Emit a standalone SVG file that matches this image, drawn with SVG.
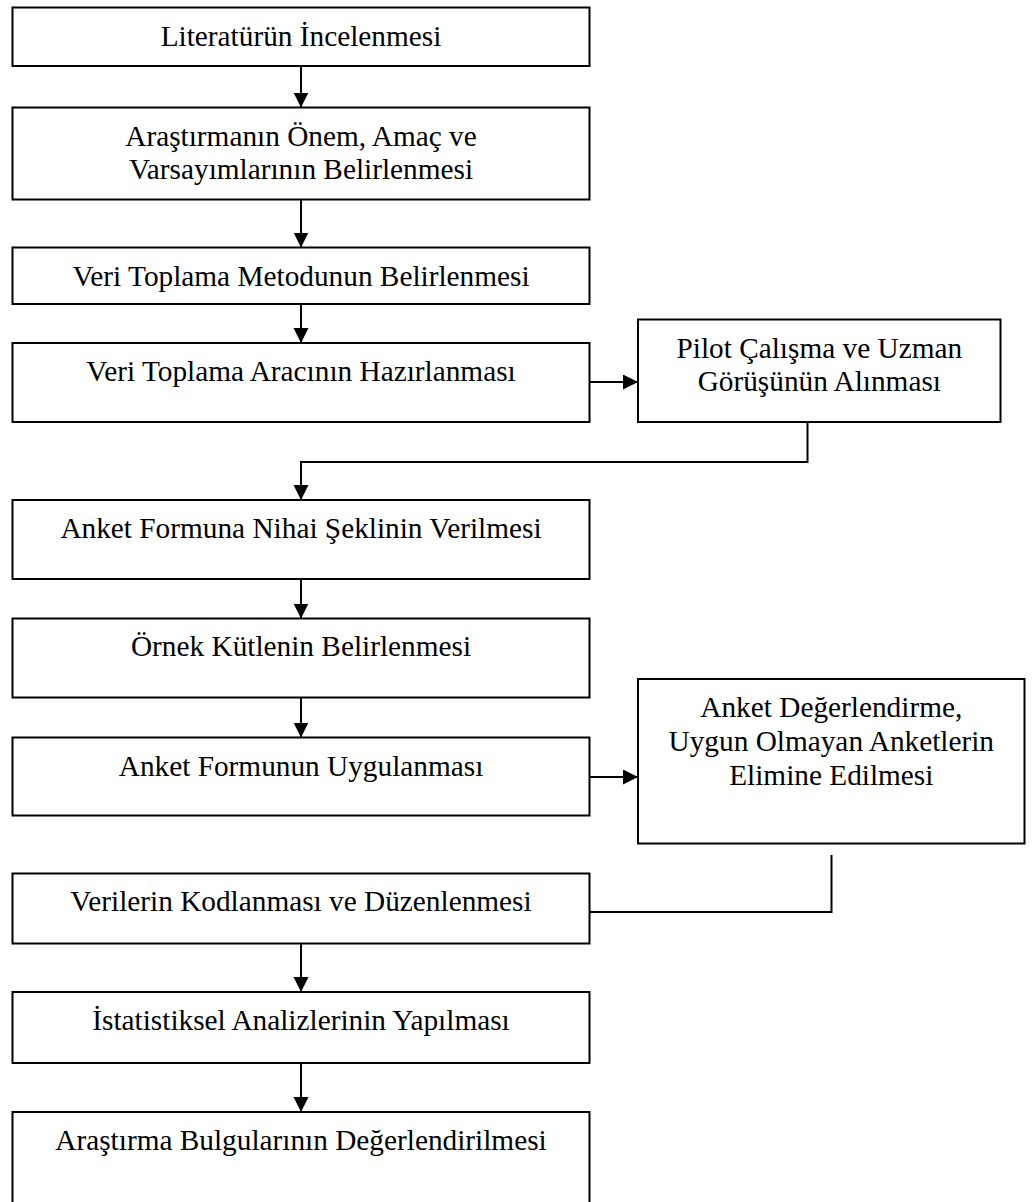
<svg xmlns="http://www.w3.org/2000/svg" width="1035" height="1202" viewBox="0 0 1035 1202">
<defs>
<style>
.box{fill:#fff;stroke:#000;stroke-width:2}
.t{font-family:"Liberation Serif","Times New Roman",serif;font-size:29.3px;fill:#000;text-anchor:middle}
.c{fill:none;stroke:#000;stroke-width:2}
.a{fill:none;stroke:#000;stroke-width:2;marker-end:url(#ah)}
</style>
<marker id="ah" markerUnits="userSpaceOnUse" markerWidth="16" markerHeight="16" refX="15" refY="7.5" orient="auto">
<path d="M0,0 L15,7.5 L0,15 Z" fill="#000"/>
</marker>
</defs>
<rect width="1035" height="1202" fill="#fff"/>
<g id="connectors">
<line class="a" x1="301" y1="66" x2="301" y2="107.5"/>
<line class="a" x1="301" y1="199.5" x2="301" y2="247.5"/>
<line class="a" x1="301" y1="304" x2="301" y2="343"/>
<line class="a" x1="589.5" y1="382" x2="638" y2="382"/>
<polyline class="a" points="807.5,422 807.5,462 301,462 301,500"/>
<line class="a" x1="301" y1="579" x2="301" y2="618.5"/>
<line class="a" x1="301" y1="697.5" x2="301" y2="737.5"/>
<line class="a" x1="589.5" y1="777" x2="638" y2="777"/>
<polyline class="c" points="831.5,855 831.5,912 589.5,912"/>
<line class="a" x1="301" y1="943.5" x2="301" y2="992"/>
<line class="a" x1="301" y1="1063" x2="301" y2="1112"/>
</g>
<g id="n1"><rect class="box" x="12.5" y="7.5" width="577" height="58.5"/><text class="t" x="301" y="45.5">Literatürün İncelenmesi</text></g>
<g id="n2"><rect class="box" x="12.5" y="107.5" width="577" height="92"/><text class="t" x="301" y="145.5">Araştırmanın Önem, Amaç ve</text><text class="t" x="301" y="179">Varsayımlarının Belirlenmesi</text></g>
<g id="n3"><rect class="box" x="12.5" y="247.5" width="577" height="56.5"/><text class="t" x="301" y="285.5">Veri Toplama Metodunun Belirlenmesi</text></g>
<g id="n4"><rect class="box" x="12.5" y="343" width="577" height="79"/><text class="t" x="301" y="381">Veri Toplama Aracının Hazırlanması</text></g>
<g id="n4b"><rect class="box" x="638" y="319.5" width="362.5" height="102.5"/><text class="t" x="819.3" y="357.5">Pilot Çalışma ve Uzman</text><text class="t" x="819.3" y="391">Görüşünün Alınması</text></g>
<g id="n5"><rect class="box" x="12.5" y="500" width="577" height="79"/><text class="t" x="301" y="538">Anket Formuna Nihai Şeklinin Verilmesi</text></g>
<g id="n6"><rect class="box" x="12.5" y="618.5" width="577" height="79"/><text class="t" x="301" y="656">Örnek Kütlenin Belirlenmesi</text></g>
<g id="n7"><rect class="box" x="12.5" y="737.5" width="577" height="78"/><text class="t" x="301" y="775.5">Anket Formunun Uygulanması</text></g>
<g id="n7b"><rect class="box" x="638" y="679" width="386.5" height="164.5"/><text class="t" x="831.3" y="716.5">Anket Değerlendirme,</text><text class="t" x="831.3" y="750.5">Uygun Olmayan Anketlerin</text><text class="t" x="831.3" y="784.5">Elimine Edilmesi</text></g>
<g id="n8"><rect class="box" x="12.5" y="873.5" width="577" height="70"/><text class="t" x="301" y="911">Verilerin Kodlanması ve Düzenlenmesi</text></g>
<g id="n9"><rect class="box" x="12.5" y="992" width="577" height="71"/><text class="t" x="301" y="1030">İstatistiksel Analizlerinin Yapılması</text></g>
<g id="n10"><rect class="box" x="12.5" y="1112" width="577" height="95"/><text class="t" x="301" y="1150">Araştırma Bulgularının Değerlendirilmesi</text></g>
</svg>
